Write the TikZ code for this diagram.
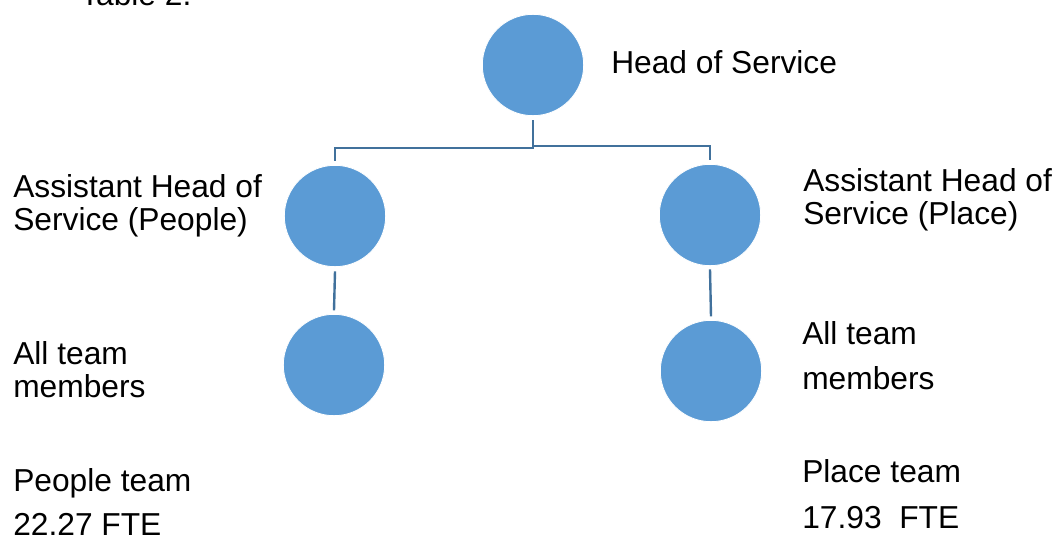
\documentclass[tikz,border=0pt]{standalone}
\usepackage{fontspec}
\setmainfont{Liberation Sans}
\usepackage{xcolor}
\definecolor{roleblue}{HTML}{5B9BD5}
\definecolor{linkblue}{HTML}{41719C}

\begin{document}
\begin{tikzpicture}[x=0.75pt,y=-0.75pt,
    role/.style={circle, fill=roleblue, draw=white, line width=0.6pt, minimum size=76pt, inner sep=0pt},
    link/.style={draw=linkblue, line width=1.8pt},
    label/.style={anchor=base west, inner sep=0pt, align=left, font=\fontsize{23.8}{24.75}\selectfont}]
  \useasboundingbox (0,0) rectangle (1057,536);

  % Title, cut off at the top
  \node[label] (title) at (80,5) {Table 2.};

  % Circles
  \node[role] (hos) at (533,65) {};
  \node[role] (ahpeople) at (335,216) {};
  \node[role] (ahplace) at (710,215) {};
  \node[role] (tmpeople) at (334,365) {};
  \node[role] (tmplace) at (711,371) {};

  % Connectors
  \coordinate (jl) at (533,148);
  \coordinate (jr) at (533,146);
  \draw[link] ([yshift=-3pt]hos.south) -- (jl) -| ([yshift=2.7pt]ahpeople.north);
  \draw[link] (jr) -| ([yshift=2.7pt]ahplace.north);
  \draw[link] ([yshift=-3.2pt]ahpeople.south) -- ([yshift=2.7pt]tmpeople.north);
  \draw[link] ([yshift=-2.5pt]ahplace.south) -- ([yshift=2.7pt]tmplace.north);

  % Labels (anchored at the baseline of the last line)
  \node[label] (lhos) at (611,73) {Head of Service};
  \node[label] (lahpeople) at (13,230) {Assistant Head of\\Service (People)};
  \node[label] (lahplace) at (803,224) {Assistant Head of\\Service (Place)};
  \node[label] (ltmpeople) at (13,397) {All team\\members};
  \node[label] (ltmplace) at (802,389) {All team\\[9pt]members};
  \node[label] (lpeople) at (13,535) {People team\\[8.25pt]22.27 FTE};
  \node[label] (lplace) at (802,528) {Place team\\[9.75pt]17.93\ \ FTE};
\end{tikzpicture}
\end{document}
